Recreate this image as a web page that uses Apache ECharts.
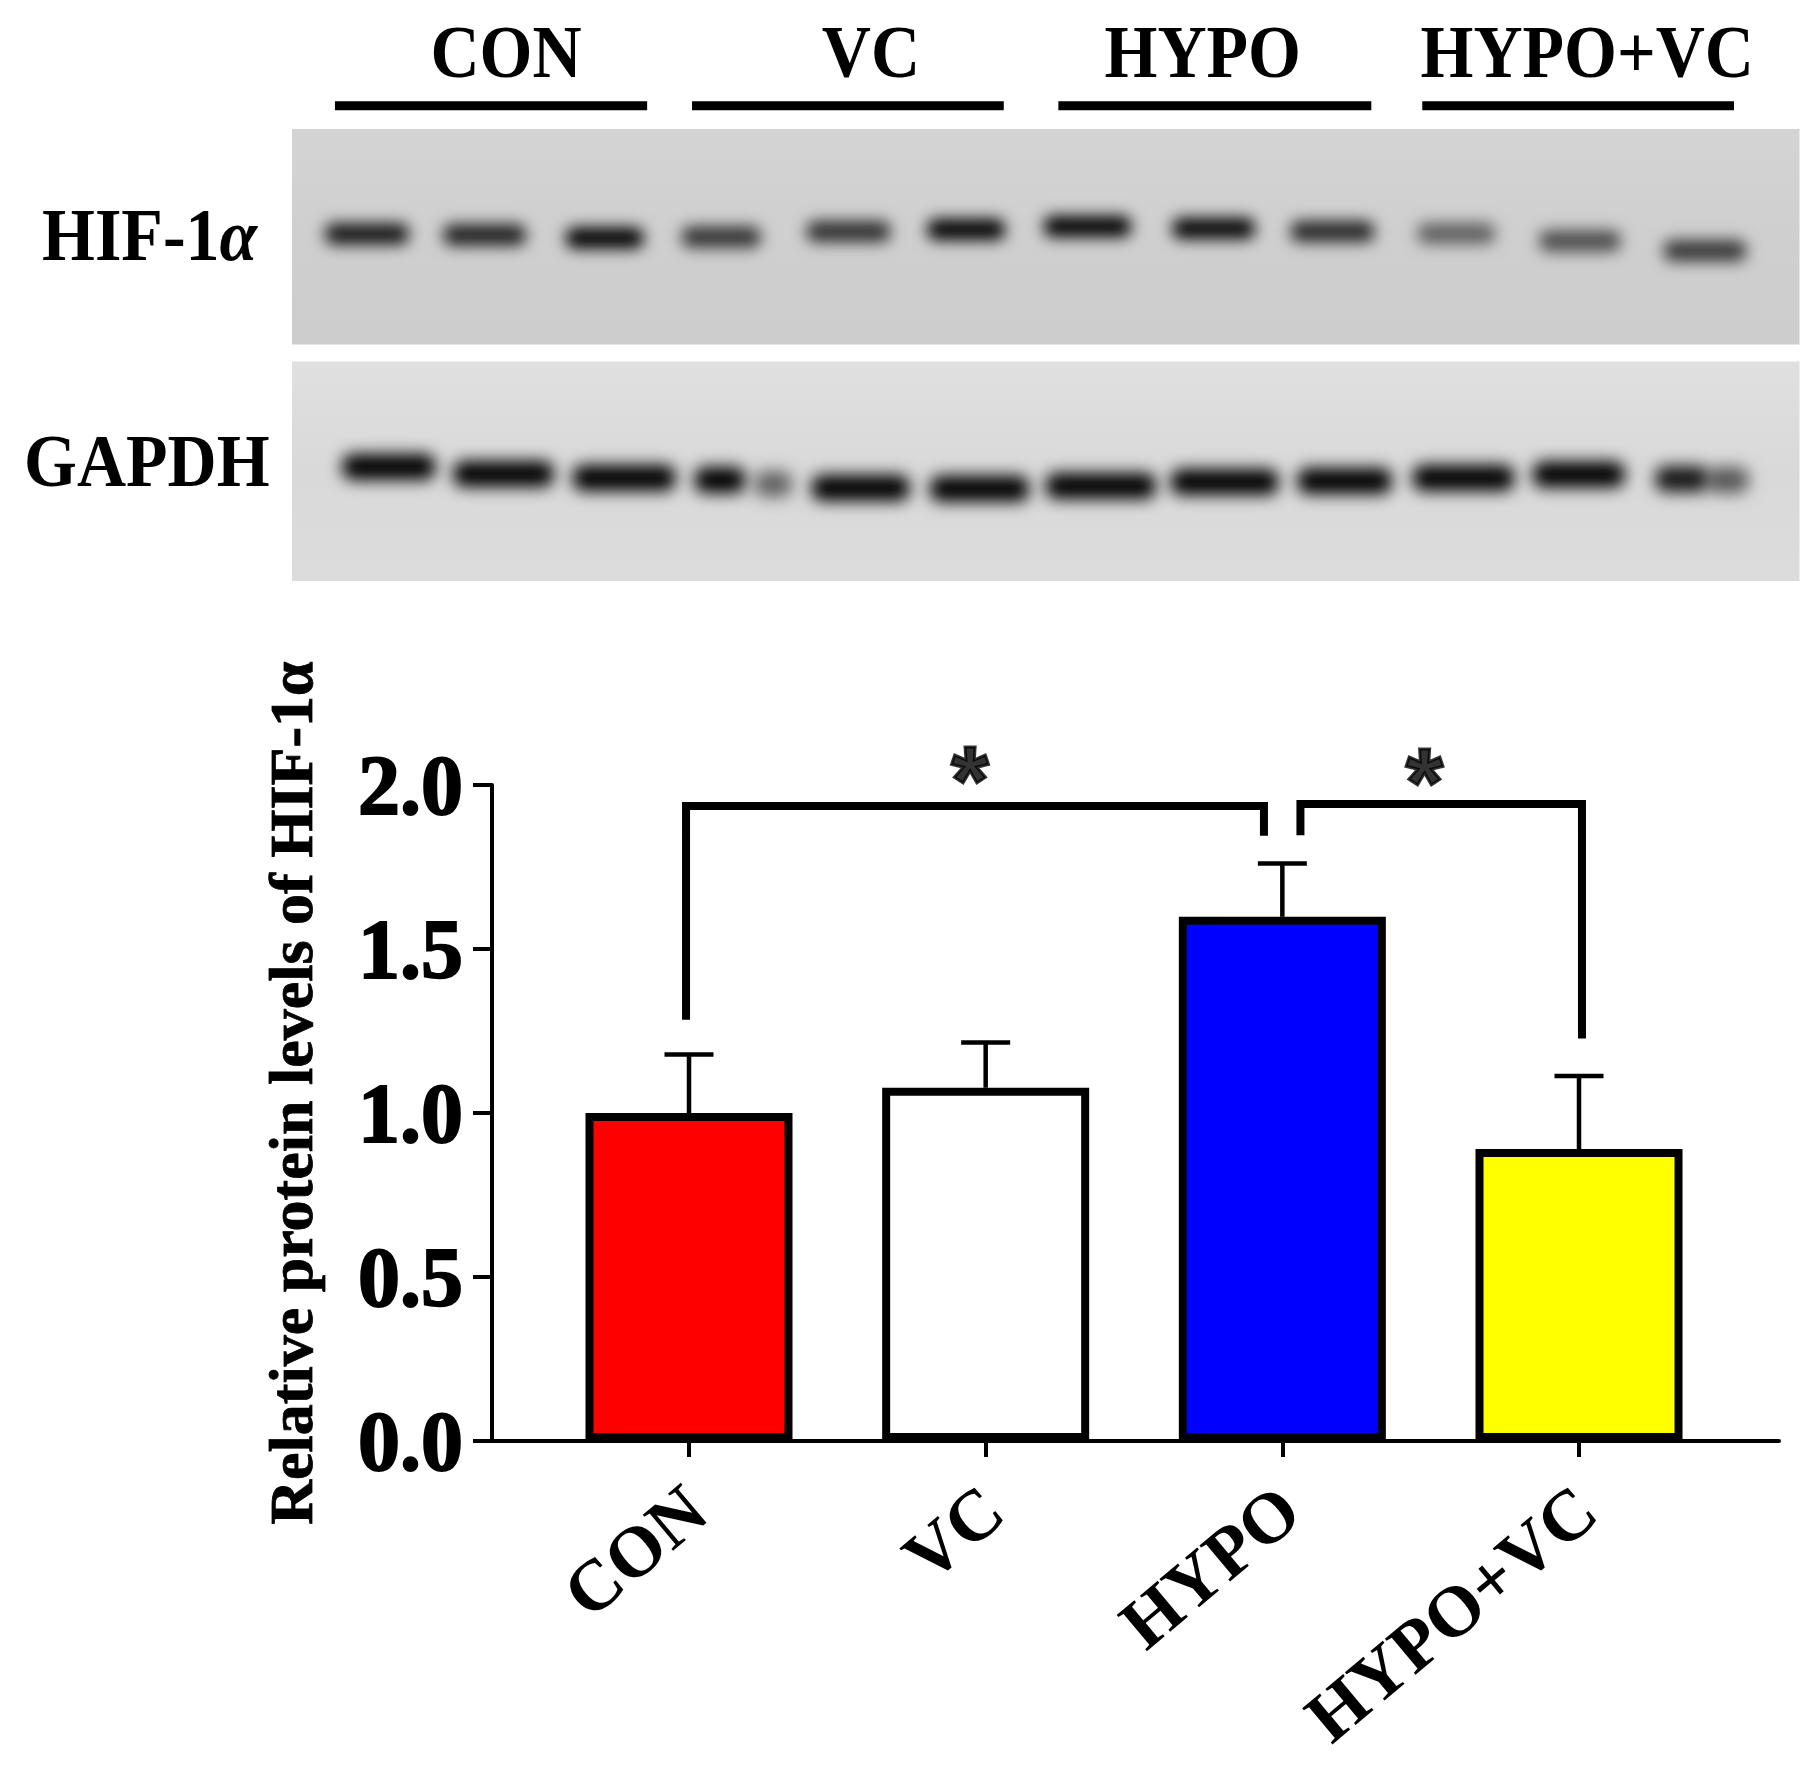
<!DOCTYPE html>
<html><head><meta charset="utf-8">
<style>html,body{margin:0;padding:0;background:#fff}#c{width:1817px;height:1768px}</style>
<script src="https://cdn.jsdelivr.net/npm/echarts@6/dist/echarts.min.js"></script>
</head><body><div id="c"></div>
<script>
// ---- chart data
const categories = ['CON', 'VC', 'HYPO', 'HYPO+VC'];
const barValues = [1.0, 1.077, 1.598, 0.89];
const errorTops = [1.178, 1.215, 1.761, 1.113];
const barColors = ['#ff0000', '#ffffff', '#0000ff', '#ffff00'];
const yTicks = [0, 0.5, 1, 1.5, 2];

// significance brackets, x in category units, y in axis units
const bracketAX = [-0.01, -0.01, 1.938, 1.938];
const bracketAY = [1.284, 1.936, 1.936, 1.845];
const bracketBX = [2.061, 2.061, 3.01, 3.01];
const bracketBY = [1.847, 1.942, 1.942, 1.227];
const starX = [0.947, 2.479];
const starY = [2.075, 2.069];

// western blot: band position in lane units, migration in % of the panel, length in lanes, intensity
const hifLane = [1.00, 1.97, 2.96, 3.92, 4.97, 5.94, 6.94, 7.98, 8.96, 9.98, 11.0, 12.03];
const hifMigration = [48.7, 49.2, 50.6, 50.1, 47.6, 46.7, 45.3, 46.2, 47.6, 48.5, 52, 56.5];
const hifLength = [.69, .68, .64, .65, .69, .64, .72, .68, .69, .64, .67, .68];
const hifIntensity = [.9, .86, 1, .76, .78, 1, 1, .98, .82, .54, .64, .74];
const gapdhLane = [1.18, 2.125, 3.12, 3.91, 4.35, 5.07, 6.05, 7.05, 8.07, 9.06, 10.04, 10.99, 11.84, 12.22];
const gapdhMigration = [48, 51.2, 53, 54, 55.8, 57.6, 58, 56.7, 54.9, 54.4, 53, 51.5, 53.5, 54];
const gapdhLength = [.77, .83, .85, .42, .31, .81, .82, .91, .89, .78, .84, .76, .44, .34];
const gapdhIntensity = [1, 1, 1, 1, .55, 1, 1, 1, 1, 1, 1, 1, .9, .6];

// sample groups above the blot: span in lanes and label centre
const groupStart = [0.736, 3.68, 6.70, 9.70];
const groupEnd = [3.31, 6.25, 9.28, 12.27];
const groupLabelAt = [2.146, 5.155, 7.89, 11.06];

const yTitle = 'Relative protein levels of HIF-1α';
const serif = '"Liberation Serif","Times New Roman",serif';

const chart = echarts.init(document.getElementById('c'), null, {renderer: 'canvas', width: 1817, height: 1768});

const G = {axisLeft: 492, axisRight: 1779, top: 785, bottom: 1441, tick0: 689, step: 296.67};
const panelGrad = (a, b, c) => ({type: 'linear', x: 0, y: 0, x2: 0, y2: 1,
  colorStops: [{offset: 0, color: a}, {offset: .5, color: b}, {offset: 1, color: c}]});

const bandSeries = (gridIdx, lane, mig, len, inten, h, blur) => ({
  type: 'custom', xAxisIndex: gridIdx, yAxisIndex: gridIdx, silent: true, clip: false,
  data: lane.map((l, i) => [l, mig[i], len[i], inten[i]]),
  renderItem(p, api) {
    const c = api.coord([api.value(0), api.value(1)]);
    const w = api.size([api.value(2), 0])[0];
    const off = 3000;
    return {type: 'rect',
      shape: {x: c[0] - w / 2 - off, y: c[1] - h / 2, width: w, height: h, r: h / 2.5},
      style: {fill: '#000', shadowColor: 'rgba(0,0,0,' + api.value(3) + ')', shadowBlur: blur, shadowOffsetX: off}};
  }
});

chart.setOption({
  backgroundColor: '#ffffff',
  animation: false,
  textStyle: {fontFamily: serif},
  grid: [
    {outerBoundsMode: 'none', left: G.axisLeft, width: G.axisRight - G.axisLeft, top: G.top, height: G.bottom - G.top},
    {outerBoundsMode: 'none', left: G.tick0 - G.step / 2, width: G.step * 4, top: G.top, height: G.bottom - G.top},
    {outerBoundsMode: 'none', left: 292, width: 1507.5, top: 129, height: 215.4, show: true, borderWidth: 0,
     backgroundColor: panelGrad('#d4d4d4', '#cfcfcf', '#cdcdcd')},
    {outerBoundsMode: 'none', left: 292, width: 1507.5, top: 361.6, height: 219.4, show: true, borderWidth: 0,
     backgroundColor: panelGrad('#e0e0e0', '#d9d9d9', '#dcdcdc')}
  ],
  xAxis: [
    {gridIndex: 0, type: 'value', min: (G.axisLeft - G.tick0) / G.step, max: (G.axisRight - G.tick0) / G.step,
     axisLine: {show: true, onZero: false, lineStyle: {color: '#000', width: 4}},
     axisTick: {show: false}, axisLabel: {show: false}, splitLine: {show: false}},
    {gridIndex: 1, type: 'category', data: categories,
     axisLine: {show: false},
     axisTick: {show: true, alignWithLabel: true, length: 16, lineStyle: {color: '#000', width: 4}},
     axisLabel: {rotate: 40, margin: 50, verticalAlign: 'top', lineHeight: 34, interval: 0, color: '#000', fontFamily: serif, fontWeight: 'bold', fontSize: 72},
     splitLine: {show: false}},
    {gridIndex: 2, type: 'value', min: 0.382, max: 12.81, show: false},
    {gridIndex: 3, type: 'value', min: 0.382, max: 12.81, show: false}
  ],
  yAxis: [
    {gridIndex: 0, type: 'value', min: yTicks[0], max: yTicks[yTicks.length - 1], interval: yTicks[1] - yTicks[0],
     name: yTitle, nameLocation: 'middle', nameRotate: 90, nameGap: 165,
     nameTextStyle: {padding: [0, 0, 0, 40], fontFamily: serif, fontWeight: 'bold', fontSize: 62, color: '#000',
       textBorderColor: '#000', textBorderWidth: 0.8},
     axisLine: {show: true, onZero: false, lineStyle: {color: '#000', width: 4}},
     axisTick: {show: true, length: 19, lineStyle: {color: '#000', width: 4}},
     axisLabel: {margin: 29, verticalAlign: 'top', lineHeight: 14, color: '#000', fontFamily: serif, fontWeight: 'bold', fontSize: 84,
                 textBorderColor: '#000', textBorderWidth: 2, formatter: v => v.toFixed(1)},
     splitLine: {show: false}},
    {gridIndex: 1, type: 'value', min: 0, max: 2, show: false},
    {gridIndex: 2, type: 'value', min: 0, max: 100, inverse: true, show: false},
    {gridIndex: 3, type: 'value', min: 0, max: 100, inverse: true, show: false}
  ],
  series: [
    {type: 'custom', name: 'error', xAxisIndex: 1, yAxisIndex: 1, clip: false, z: 2,
     data: categories.map((c, i) => [i, barValues[i], errorTops[i]]),
     renderItem(p, api) {
       const a = api.coord([api.value(0), api.value(1)]);
       const b = api.coord([api.value(0), api.value(2)]);
       const st = {stroke: '#000', lineWidth: 4.5, fill: 'none'};
       return {type: 'group', children: [
         {type: 'line', shape: {x1: a[0], y1: a[1], x2: b[0], y2: b[1]}, style: st},
         {type: 'line', shape: {x1: b[0] - 24.5, y1: b[1], x2: b[0] + 24.5, y2: b[1]}, style: st}
       ]};
     }},
    {type: 'bar', name: 'HIF-1α', xAxisIndex: 1, yAxisIndex: 1, barWidth: 207, z: 3,
     data: barValues.map((v, i) => ({value: v, itemStyle: {color: barColors[i], borderColor: '#000', borderWidth: 8}}))},
    {type: 'line', name: 'bracket HYPO vs CON', xAxisIndex: 0, yAxisIndex: 0, clip: false, symbol: 'none', silent: true, z: 4,
     lineStyle: {color: '#000', width: 8, cap: 'butt', join: 'miter'},
     data: bracketAX.map((x, i) => [x, bracketAY[i]])},
    {type: 'line', name: 'bracket HYPO vs HYPO+VC', xAxisIndex: 0, yAxisIndex: 0, clip: false, symbol: 'none', silent: true, z: 4,
     lineStyle: {color: '#000', width: 8, cap: 'butt', join: 'miter'},
     data: bracketBX.map((x, i) => [x, bracketBY[i]])},
    {type: 'scatter', name: 'significance', xAxisIndex: 0, yAxisIndex: 0, clip: false, silent: true, symbolSize: 1, z: 5,
     itemStyle: {color: 'rgba(0,0,0,0)'},
     label: {show: true, position: 'inside', formatter: '*', color: '#000', fontFamily: '"Liberation Sans",Arial,sans-serif',
             fontWeight: 'bold', fontSize: 96, offset: [0, 26], textBorderColor: '#000', textBorderWidth: 3},
     data: starX.map((x, i) => [x, starY[i]])},
    bandSeries(2, hifLane, hifMigration, hifLength, hifIntensity, 21, 15),
    bandSeries(3, gapdhLane, gapdhMigration, gapdhLength, gapdhIntensity, 26, 16),
    {type: 'custom', name: 'groups', xAxisIndex: 2, yAxisIndex: 2, clip: false, silent: true,
     data: categories.map((c, i) => [groupStart[i], groupEnd[i], groupLabelAt[i], i]),
     renderItem(p, api) {
       const a = api.coord([api.value(0), -10.77]);
       const b = api.coord([api.value(1), -10.77]);
       const t = api.coord([api.value(2), -33.0]);
       return {type: 'group', children: [
         {type: 'rect', shape: {x: a[0], y: a[1] - 4.5, width: b[0] - a[0], height: 9}, style: {fill: '#000'}},
         {type: 'text', x: t[0], y: t[1], scaleY: 1.1, style: {text: categories[api.value(3)], fontFamily: serif, fontWeight: 'bold',
           fontSize: 68, fill: '#000', align: 'center', verticalAlign: 'middle'}}
       ]};
     }}
  ],
  graphic: [
    {type: 'text', left: 42, top: 203, scaleY: 1.1, style: {
      rich: {m: {fontFamily: serif, fontWeight: 'bold', fontSize: 68, fill: '#000'},
             g: {fontFamily: serif, fontWeight: 'bold', fontStyle: 'italic', fontSize: 68, fill: '#000'}},
      text: '{m|HIF-1}{g|α}'}},
    {type: 'text', left: 24, top: 429, scaleY: 1.1, style: {text: 'GAPDH', fontFamily: serif, fontWeight: 'bold', fontSize: 68, fill: '#000'}}
  ]
});
</script></body></html>
